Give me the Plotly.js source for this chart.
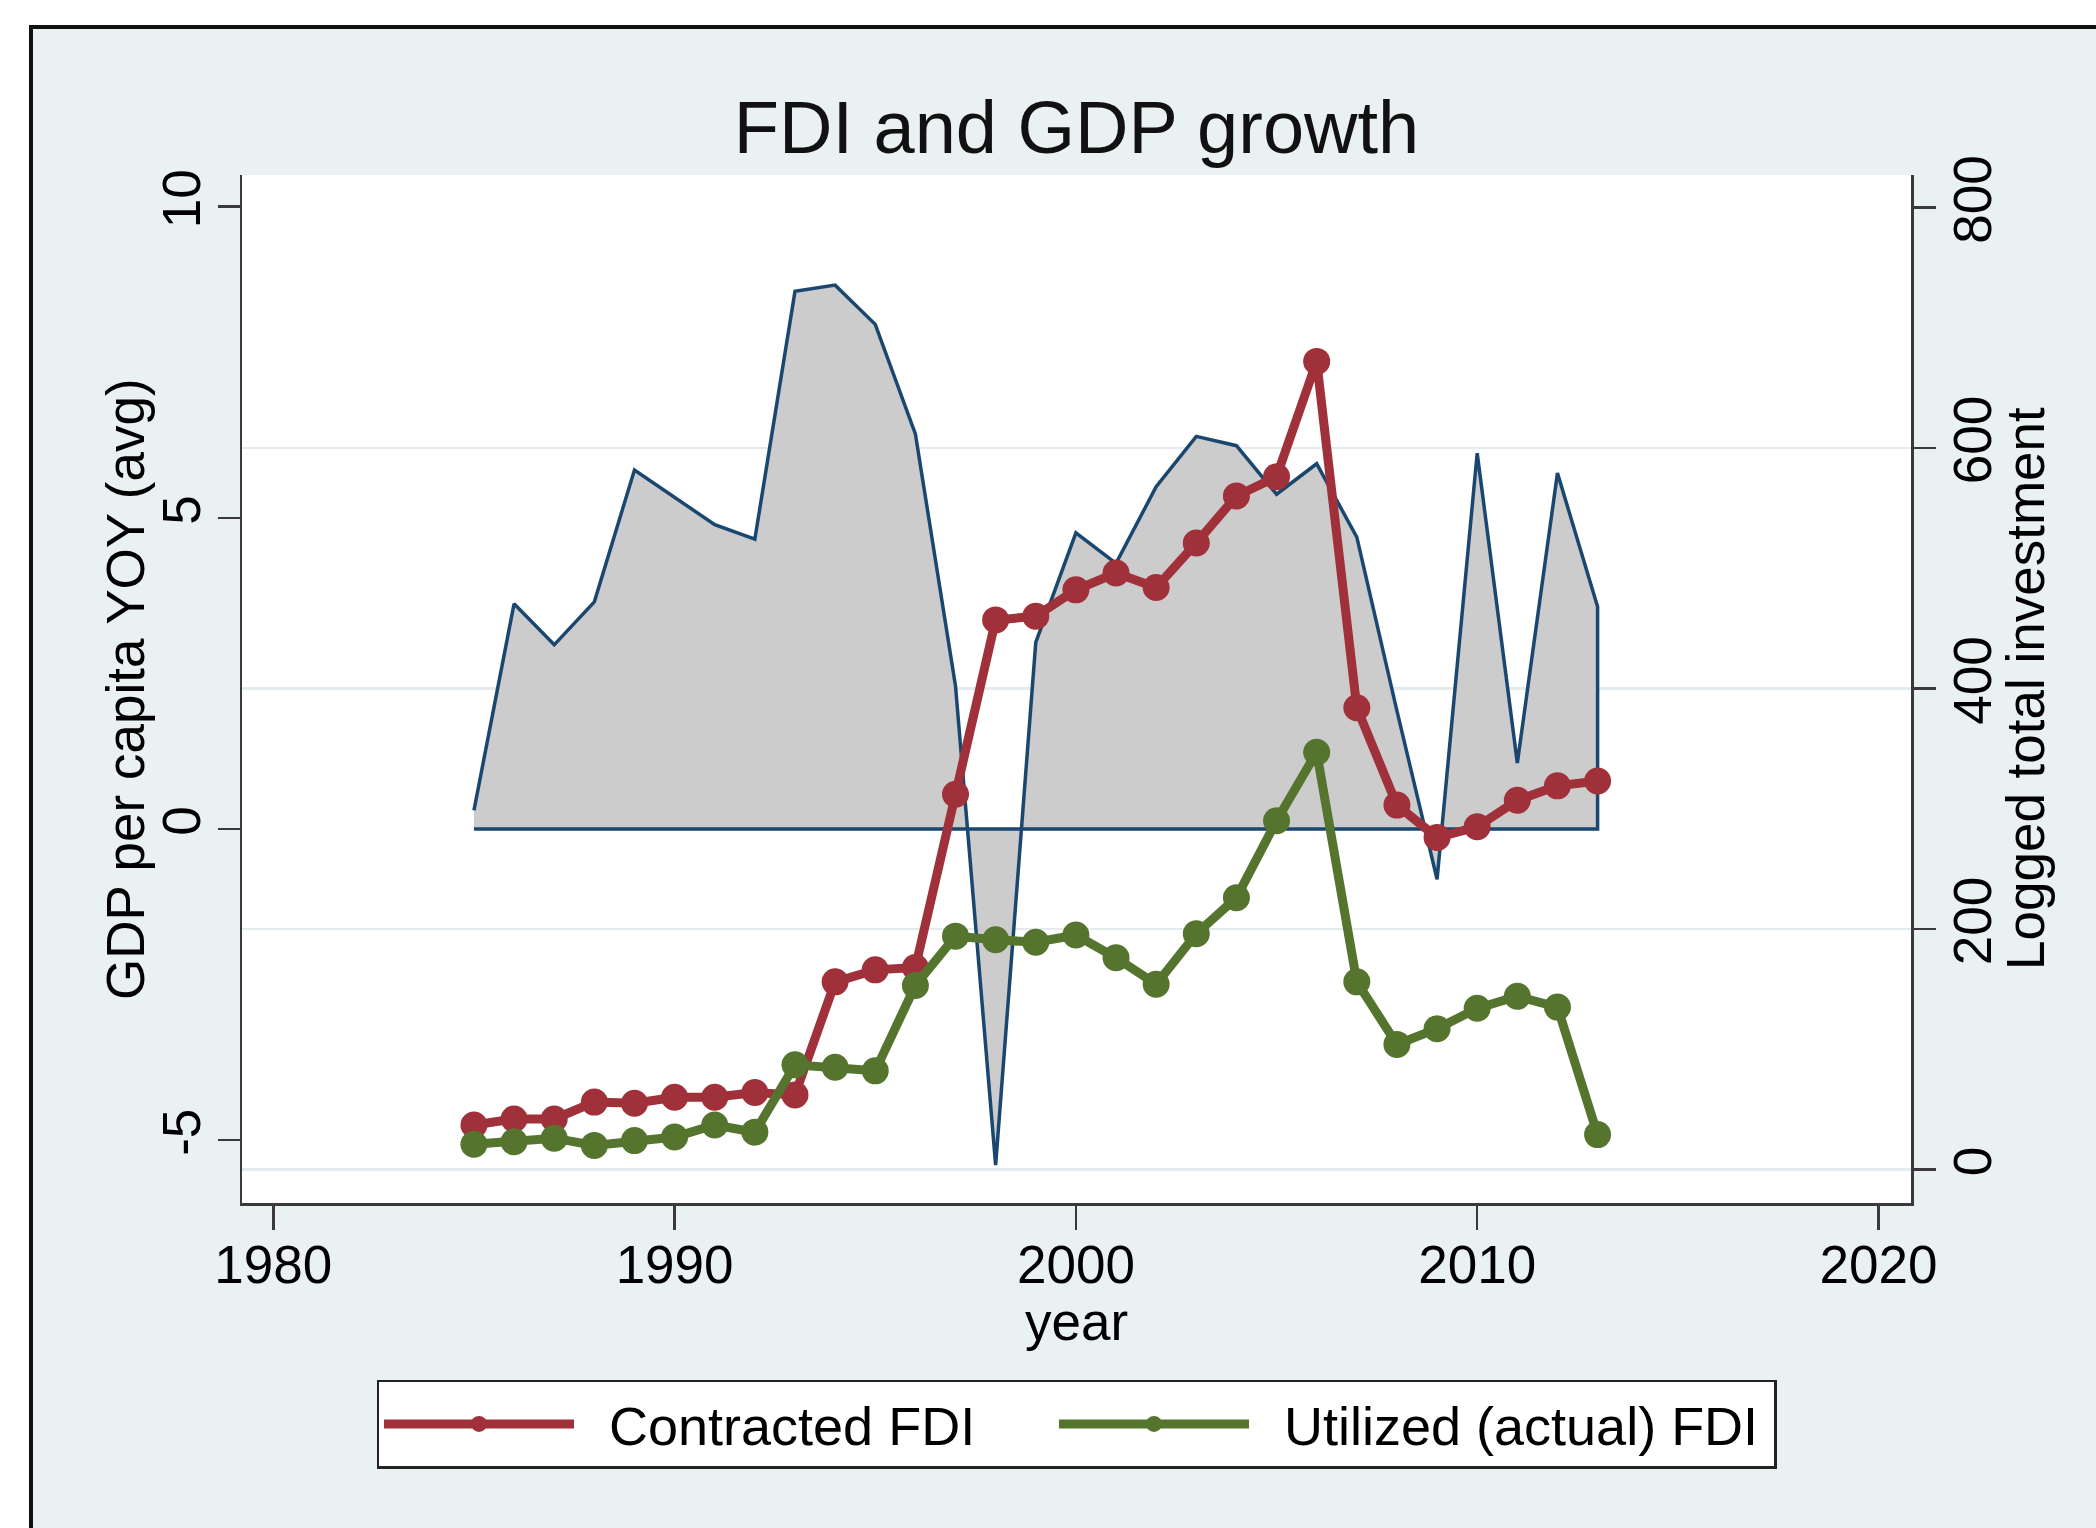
<!DOCTYPE html>
<html>
<head>
<meta charset="utf-8">
<script src="https://cdn.plot.ly/plotly-3.0.1.min.js"></script>
<style>
html,body{margin:0;padding:0;background:#ffffff;width:2096px;height:1528px;overflow:hidden;}
#frame{position:absolute;left:29px;top:25px;border-left:4px solid #111;border-top:4px solid #111;width:2063px;height:1499px;}
#chart{width:2063px;height:1499px;}
</style>
</head>
<body>
<div id="frame"><div id="chart"></div></div>
<script>
// ---- data ----
const years = [1985,1986,1987,1988,1989,1990,1991,1992,1993,1994,1995,1996,1997,1998,1999,
               2000,2001,2002,2003,2004,2005,2006,2007,2008,2009,2010,2011,2012,2013];
// GDP per capita YOY (avg) – left axis, shaded area
const gdpGrowth = [0.3,3.62,2.96,3.65,5.77,5.33,4.89,4.66,8.64,8.74,8.11,6.35,2.3,-5.4,3.0,
                   4.76,4.27,5.5,6.31,6.16,5.38,5.87,4.69,1.9,-0.81,6.04,1.06,5.72,3.57];
// Contracted FDI – right axis
const contractedFDI = [37,42,42,56,55,60,60,64,62,156,166,168,312,457,460,
                       482,496,484,521,560,576,672,384,303,276,285,307,319,323];
// Utilized (actual) FDI – right axis
const utilizedFDI = [21,23,26,20,24,27,37,31,87,85,82,153,194,191,189,
                     195,176,154,196,226,290,347,156,104,117,134,144,135,29];

const seriesNames = ['Contracted FDI', 'Utilized (actual) FDI'];
const chartTitle = 'FDI and GDP growth';
const xTitle = 'year';
const yLeftTitle = 'GDP per capita YOY (avg)';
const yRightTitle = 'Logged total investment';

const xTicks = [1980,1990,2000,2010,2020];
const yLeftTicks = [-5,0,5,10];
const yLeftTickText = ['-5','0','5','10'];
const yRightTicks = [0,200,400,600,800];
const yRightGrid = [0,200,400,600];

// closed polygon for the area (data line + baseline at zero)
const areaX = years.concat([years[years.length-1], years[0]]);
const areaY = gdpGrowth.concat([0, 0]);

const FONT = 'Liberation Sans, Arial, Helvetica, sans-serif';
const AXC = '#3a3a3a';
const GAP = '\u00a0\u00a0';

const traces = [
  {x: areaX, y: areaY, type:'scatter', mode:'lines', fill:'toself',
   fillcolor:'#cccccc', line:{color:'#1a476f', width:3.5}, showlegend:false,
   hoverinfo:'skip', yaxis:'y'},
  {x: years, y: contractedFDI, type:'scatter', mode:'lines+markers', name: GAP + seriesNames[0],
   line:{color:'#a0303a', width:9}, marker:{color:'#a0303a', size:27}, yaxis:'y2', legendwidth:470},
  {x: years, y: utilizedFDI, type:'scatter', mode:'lines+markers', name: GAP + seriesNames[1],
   line:{color:'#55752f', width:9}, marker:{color:'#55752f', size:27}, yaxis:'y3', legendwidth:515}
];

const rightRange = [-27.9, 827];

const layout = {
  width: 2063, height: 1499,
  margin: {l:209, r:185, t:146, b:325},
  paper_bgcolor:'#eaf1f3', plot_bgcolor:'#ffffff',
  font:{family:FONT, color:'#000', size:53},
  title:{text:chartTitle, font:{family:FONT, size:74, color:'#111'},
         x:0.5, xref:'paper', xanchor:'center', y:0.9346, yref:'container', yanchor:'middle'},
  xaxis:{range:[1979.22, 2020.81], tickvals:xTicks, ticks:'outside', ticklen:24, tickwidth:2.5,
         tickcolor:AXC, showline:true, linecolor:AXC, linewidth:2.5, showgrid:false, zeroline:false,
         tickfont:{size:53, color:'#000'}, ticklabelstandoff:-10},
  yaxis:{range:[-6.01, 10.51], tickvals:yLeftTicks, ticktext:yLeftTickText, tickangle:-90,
         ticks:'outside', ticklen:22, tickwidth:2.5, tickcolor:AXC, showline:true, linecolor:AXC,
         linewidth:2.5, showgrid:false, zeroline:false, tickfont:{size:53, color:'#000'},
         ticklabelstandoff:-4},
  yaxis2:{range:rightRange, overlaying:'y', side:'right', tickvals:yRightTicks, tickangle:-90,
          ticks:'outside', ticklen:22, tickwidth:2.5, tickcolor:AXC, showline:true, linecolor:AXC,
          linewidth:2.5, showgrid:false, zeroline:false, tickfont:{size:53, color:'#000'},
          ticklabelstandoff:-8},
  yaxis3:{range:rightRange, overlaying:'y', side:'right', tickvals:yRightGrid,
          showticklabels:false, ticks:'', showline:false, zeroline:false,
          showgrid:true, gridcolor:'#e3ebee', gridwidth:2.5},
  annotations:[
    {text:xTitle, xref:'paper', yref:'paper', x:0.5, y:0, yshift:-118, xanchor:'center', yanchor:'middle',
     showarrow:false, font:{size:53, color:'#000'}},
    {text:yLeftTitle, xref:'paper', yref:'paper', x:0, y:0.5, xshift:-117, xanchor:'center', yanchor:'middle',
     textangle:-90, showarrow:false, font:{size:53, color:'#000'}},
    {text:yRightTitle, xref:'paper', yref:'paper', x:1, y:0.5, xshift:114, xanchor:'center', yanchor:'middle',
     textangle:-90, showarrow:false, font:{size:53, color:'#000'}}
  ],
  legend:{orientation:'h', x:0.5, xanchor:'center', y:-0.172, yanchor:'top',
          bgcolor:'#ffffff', bordercolor:'#222', borderwidth:2.5,
          font:{size:54, color:'#000'}, itemwidth:190, traceorder:'normal'},
  showlegend:true
};

Plotly.newPlot('chart', traces, layout, {displayModeBar:false, staticPlot:true});
</script>
</body>
</html>
